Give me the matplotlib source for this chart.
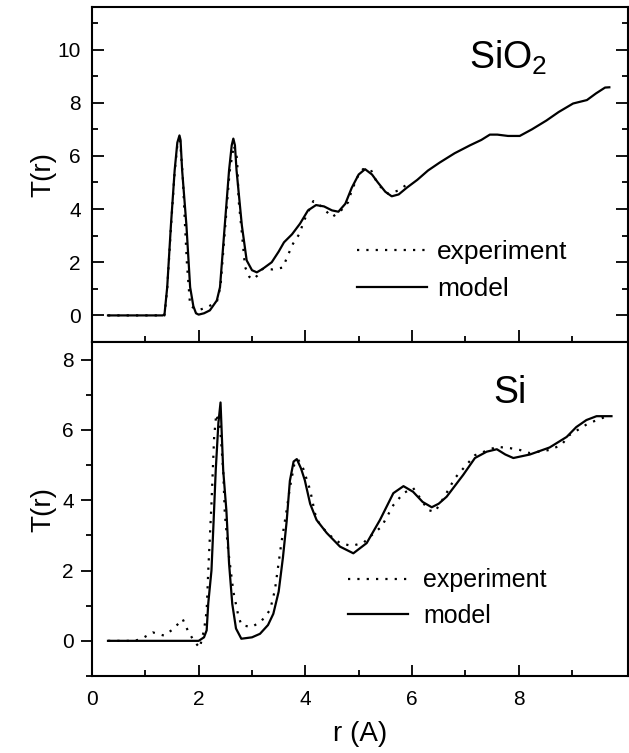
import numpy as np
import matplotlib
matplotlib.use('Agg')
import matplotlib.pyplot as plt
from matplotlib.ticker import MultipleLocator, FixedLocator

plt.rcParams['font.family'] = ['Liberation Sans', 'DejaVu Sans']
plt.rcParams['mathtext.default'] = 'regular'

# SiO2 - model
r_sio2_mod = [0.3, 1.33, 1.36, 1.41, 1.48, 1.55, 1.6, 1.64, 1.66, 1.69, 1.77, 1.84, 1.9, 1.95, 2.0,
              2.1, 2.21, 2.34, 2.4, 2.49, 2.57, 2.62, 2.65, 2.68, 2.71, 2.81, 2.9, 3.0, 3.09, 3.2,
              3.37, 3.5, 3.6, 3.75, 3.9, 4.05, 4.2, 4.35, 4.5, 4.62, 4.75, 4.87, 5.0, 5.12, 5.25,
              5.36, 5.5, 5.62, 5.75, 5.9, 6.1, 6.3, 6.52, 6.8, 7.09, 7.3, 7.46, 7.6, 7.8, 8.02,
              8.25, 8.52, 8.75, 9.02, 9.28, 9.45, 9.62, 9.7]
t_sio2_mod = [0, 0, 0.05, 1.06, 3.4, 5.46, 6.5, 6.77, 6.6, 5.46, 3.4, 1.06, 0.35, 0.08, 0.03,
              0.08, 0.19, 0.56, 1.06, 3.4, 5.46, 6.4, 6.65, 6.4, 5.46, 3.38, 2.07, 1.7, 1.62, 1.75,
              2.0, 2.4, 2.75, 3.05, 3.45, 3.95, 4.15, 4.1, 3.95, 3.9, 4.2, 4.8, 5.3, 5.5, 5.3,
              5.0, 4.65, 4.48, 4.55, 4.8, 5.1, 5.45, 5.75, 6.1, 6.4, 6.6, 6.8, 6.8, 6.75, 6.75,
              7.0, 7.33, 7.65, 7.97, 8.1, 8.35, 8.57, 8.58]

# SiO2 - experiment
r_sio2_exp = [0.3, 1.36, 1.41, 1.48, 1.55, 1.6, 1.65, 1.7, 1.74, 1.78, 1.84, 1.93, 2.03, 2.15,
              2.34, 2.41, 2.5, 2.58, 2.66, 2.72, 2.75, 2.81, 2.87, 2.95, 3.02, 3.1, 3.2, 3.39,
              3.58, 3.67, 3.77, 3.9, 3.96, 4.15, 4.3, 4.5, 4.65, 4.8, 4.87, 5.0, 5.08, 5.23, 5.36,
              5.55, 5.75, 5.92]
t_sio2_exp = [0, 0, 1.0, 3.3, 5.4, 6.4, 6.6, 5.3, 3.57, 1.95, 0.37, 0.25, 0.22, 0.3,
              0.5, 1.1, 3.4, 5.4, 6.4, 5.9, 4.32, 3.1, 1.82, 1.45, 1.35, 1.5, 1.75, 1.73,
              1.8, 2.25, 2.7, 3.1, 3.5, 4.3, 4.1, 3.7, 3.9, 4.25, 4.7, 5.3, 5.5, 5.47, 4.93,
              4.58, 4.7, 4.95]

# Si - model
r_si_mod = [0.3, 2.0, 2.1, 2.15, 2.18, 2.24, 2.28, 2.32, 2.37, 2.41, 2.46, 2.52, 2.57, 2.63, 2.7,
            2.8, 3.0, 3.15, 3.3, 3.4, 3.5, 3.58, 3.65, 3.71, 3.78, 3.84, 3.92, 3.99, 4.09, 4.21,
            4.4, 4.65, 4.9, 5.15, 5.4, 5.65, 5.84, 6.02, 6.2, 6.37, 6.5, 6.65, 6.96, 7.18, 7.4,
            7.59, 7.75, 7.9, 8.21, 8.58, 8.9, 9.08, 9.27, 9.46, 9.74]
t_si_mod = [0, 0, 0.1, 0.3, 1.07, 2.0, 3.4, 4.85, 6.2, 6.78, 4.85, 3.7, 2.2, 1.05, 0.35,
            0.06, 0.1, 0.2, 0.45, 0.77, 1.4, 2.37, 3.4, 4.55, 5.1, 5.17, 4.9, 4.57, 3.9, 3.44,
            3.07, 2.68, 2.49, 2.78, 3.44, 4.2, 4.4, 4.24, 3.95, 3.8, 3.9, 4.1, 4.72, 5.2, 5.38,
            5.45, 5.3, 5.2, 5.3, 5.5, 5.8, 6.08, 6.28, 6.39, 6.39]

# Si - experiment
r_si_exp = [0.3, 0.8, 0.93, 1.14, 1.35, 1.52, 1.7, 1.8, 1.91, 2.02, 2.1, 2.15, 2.18, 2.24, 2.29,
            2.33, 2.4, 2.46, 2.49, 2.55, 2.65, 2.74, 2.8, 2.99, 3.17, 3.34, 3.43, 3.55, 3.65, 3.71,
            3.79, 3.86, 3.96, 4.09, 4.18, 4.27, 4.46, 4.65, 4.87, 5.09, 5.24, 5.43, 5.65, 5.84,
            6.02, 6.18, 6.3, 6.43, 6.55, 6.68, 6.8, 6.96, 7.18, 7.59, 7.84, 8.02, 8.21, 8.58,
            8.8, 8.95, 9.3, 9.71]
t_si_exp = [0, 0, 0.06, 0.24, 0.15, 0.33, 0.62, 0.28, 0, -0.2, 0.3, 0.85, 2.0, 3.9, 5.8,
            6.45, 6.1, 4.85, 3.63, 2.63, 1.4, 0.74, 0.45, 0.39, 0.55, 0.88, 1.45, 2.78, 3.72, 4.35,
            5.0, 5.17, 4.9, 4.29, 3.63, 3.3, 3.0, 2.78, 2.7, 2.79, 3.0, 3.25, 3.86, 4.2,
            4.35, 4.0, 3.72, 3.67, 3.96, 4.29, 4.62, 4.9, 5.28, 5.52, 5.48, 5.43, 5.34, 5.43,
            5.57, 5.85, 6.18, 6.42]

x_major = [0, 2, 4, 6, 8]
x_minor = [1, 3, 5, 7, 9]

W, H = 629, 753
fig = plt.figure(figsize=(W / 100, H / 100), dpi=100)
x0, x1 = 92, 628
ax1 = fig.add_axes([x0 / W, 1 - 342 / H, (x1 - x0) / W, (342 - 7) / H])
ax2 = fig.add_axes([x0 / W, 1 - 676 / H, (x1 - x0) / W, (676 - 342) / H])

dot = (0, (1, 3.2))
for ax, r_e, t_e, r_m, t_m in [(ax1, r_sio2_exp, t_sio2_exp, r_sio2_mod, t_sio2_mod),
                               (ax2, r_si_exp, t_si_exp, r_si_mod, t_si_mod)]:
    ax.plot(r_e, t_e, color='k', lw=1.6, linestyle=dot, label='experiment')
    ax.plot(r_m, t_m, color='k', lw=1.6, label='model')
    ax.set_xlim(0, 10.05)
    ax.xaxis.set_major_locator(FixedLocator(x_major))
    ax.xaxis.set_minor_locator(FixedLocator(x_minor))
    ax.yaxis.set_major_locator(MultipleLocator(2))
    ax.yaxis.set_minor_locator(MultipleLocator(1))
    for s in ax.spines.values():
        s.set_linewidth(1.5)
    ax.set_ylabel('T(r)', fontsize=20)
    ax.yaxis.set_label_coords(-0.066, 0.5)

ax1.set_ylim(-1, 11.6)
ax2.set_ylim(-1, 8.5)

ax1.tick_params(which='both', direction='in', right=True, top=False, width=1.3,
                labelbottom=False, labelsize=15, pad=8)
ax1.tick_params(which='major', length=8.5)
ax1.tick_params(which='minor', length=4.5)

ax2.tick_params(axis='x', which='both', direction='in', width=1.3, labelsize=15, pad=10)
ax2.tick_params(axis='y', which='both', direction='out', width=1.3, labelsize=15, pad=5)
ax2.tick_params(axis='y', which='both', right=True)
ax2.tick_params(which='major', length=8)
ax2.tick_params(which='minor', length=4.5)
ax2.set_xlabel('r (A)', fontsize=20)
ax2.xaxis.set_label_coords(0.5, -0.135)

ax1.text(0.776, 0.849, 'SiO$_2$', transform=ax1.transAxes, fontsize=27, ha='center', va='center')
ax2.text(0.78, 0.847, 'Si', transform=ax2.transAxes, fontsize=27, ha='center', va='center')

ax1.legend(loc='upper left', bbox_to_anchor=(0.494, 0.304), frameon=False, fontsize=19,
           handlelength=2.65, handletextpad=0.4, labelspacing=0.5, borderpad=0, borderaxespad=0)
ax2.legend(loc='upper left', bbox_to_anchor=(0.478, 0.322), frameon=False, fontsize=18,
           handlelength=2.4, handletextpad=0.6, labelspacing=0.45, borderpad=0, borderaxespad=0)

fig.savefig('out.png', dpi=100)
